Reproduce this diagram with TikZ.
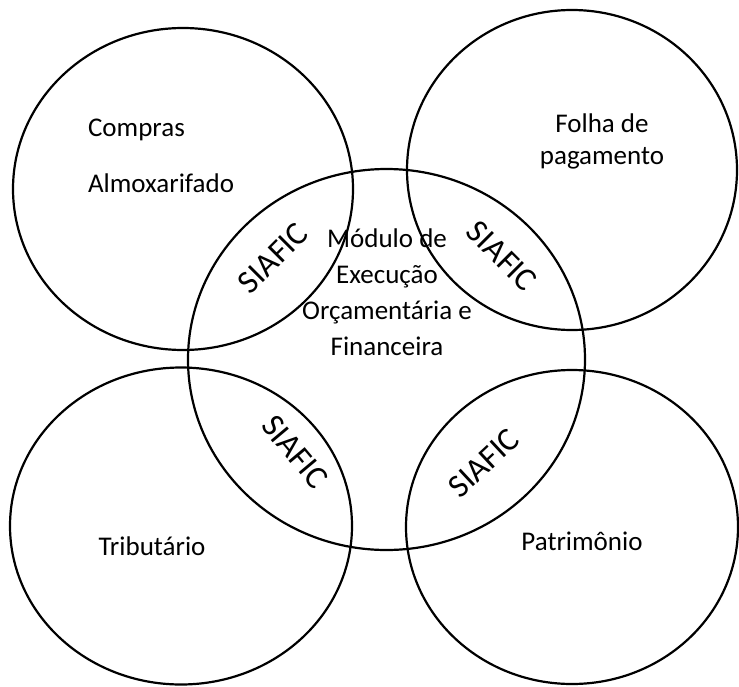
\documentclass[tikz,border=0pt]{standalone}
\usepackage{fontspec}
\setmainfont{Carlito}

\begin{document}
\begin{tikzpicture}[x=0.5pt,y=-0.5pt,line width=1.1pt,
        every node/.style={inner sep=0pt,font=\fontsize{13.5}{16}\selectfont},
        siafic/.style={font=\fontsize{16.5}{18}\selectfont}]
        \useasboundingbox (0,0) rectangle (739,686);
        % the five sets
        \draw [black] (183,189) circle [x radius=170, y radius=161];
        \draw [black] (572,170) circle [x radius=165, y radius=160];
        \draw [black] (386.5,359.5) circle [x radius=198.5, y radius=190.5];
        \draw [black] (181,526) circle [x radius=171, y radius=158.5];
        \draw [black] (572,527) circle [x radius=166, y radius=157];
        % labels
        \node (compras) [anchor=west] at (87,130) {Compras};
        \node (almox) [anchor=west] at (87,183) {Almoxarifado};
        \node (folha) [align=center] at (602,141) {Folha de\\pagamento};
        \node (modulo) [align=center,font=\fontsize{13.5}{18}\selectfont] at (387,292)
                {Módulo de\\Execução\\Orçamentária e\\Financeira};
        \node (tributario) at (152,546) {Tributário};
        \node (patrimonio) at (582,541) {Patrimônio};
        % intersections
        \node (siaficA) [siafic,rotate=45] at (273,258) {SIAFIC};
        \node (siaficB) [siafic,rotate=-45] at (502,256) {SIAFIC};
        \node (siaficC) [siafic,rotate=-50] at (295,452) {SIAFIC};
        \node (siaficD) [siafic,rotate=43] at (484,463) {SIAFIC};
\end{tikzpicture}
\end{document}
